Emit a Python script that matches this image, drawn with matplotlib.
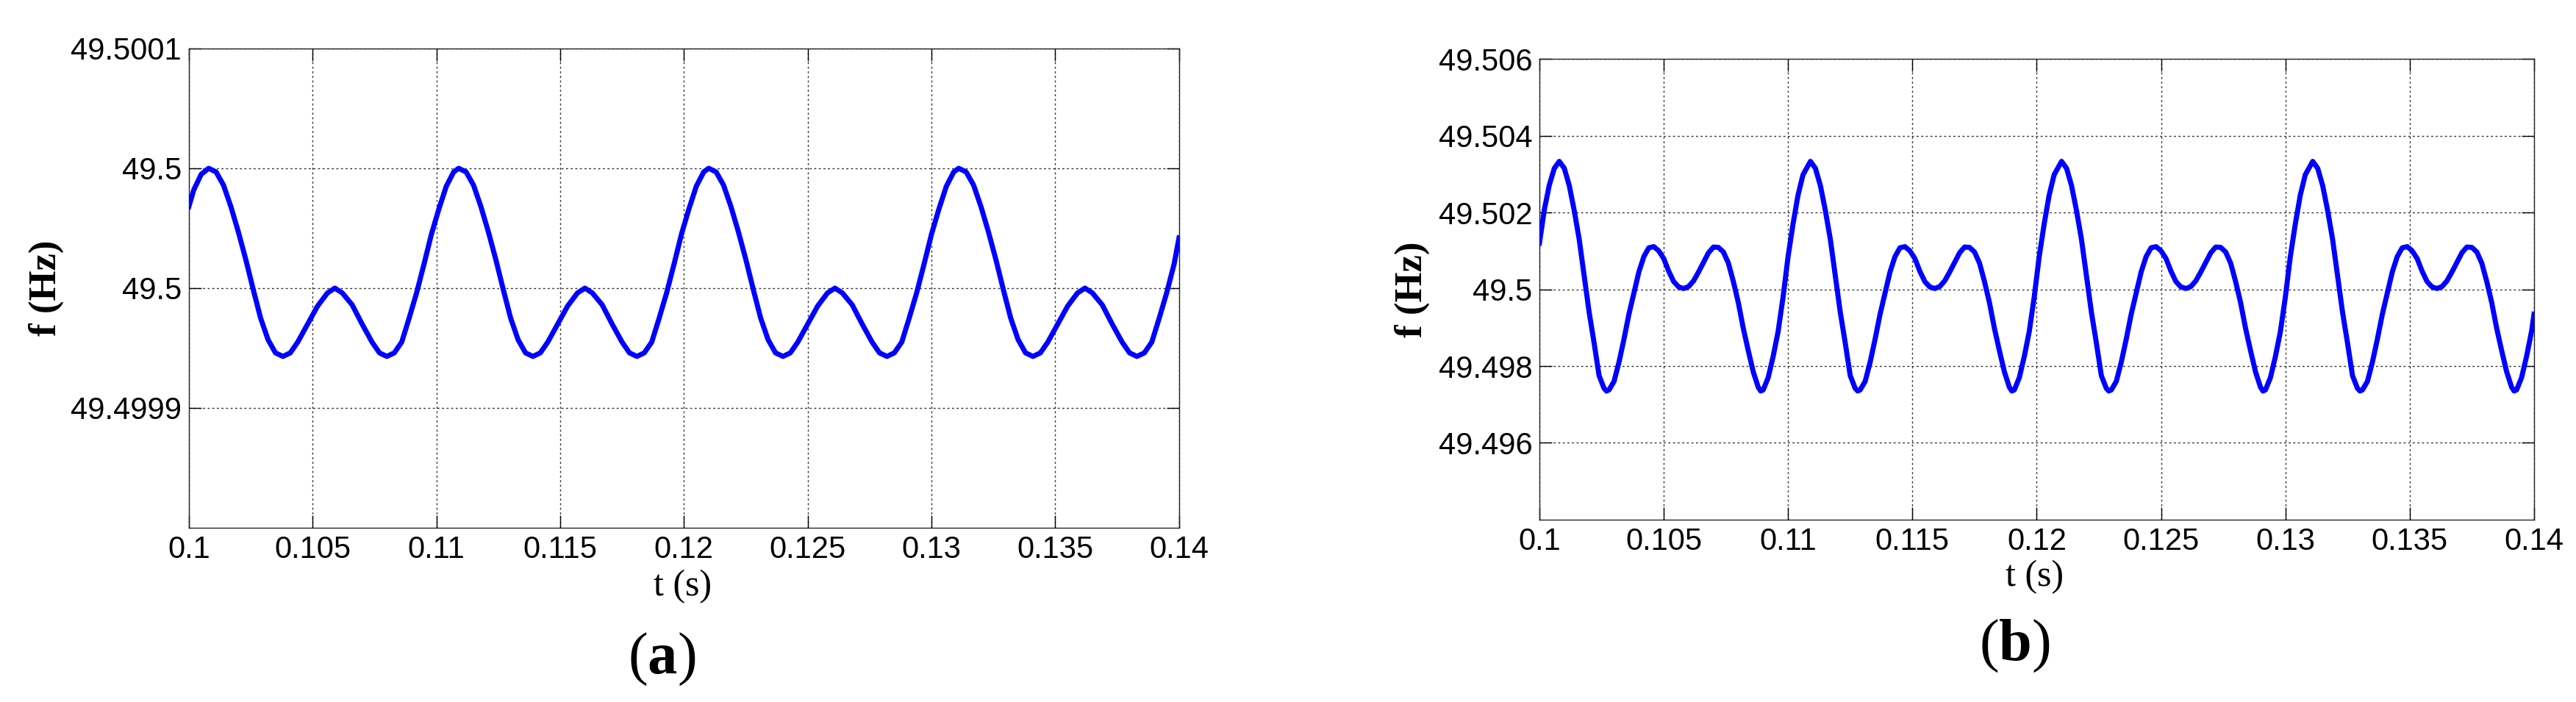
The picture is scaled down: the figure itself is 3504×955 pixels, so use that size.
import matplotlib
matplotlib.use("Agg")
import matplotlib.pyplot as plt
from matplotlib.ticker import FixedLocator, FixedFormatter

plt.rcParams["mathtext.fontset"] = "custom"
plt.rcParams["mathtext.rm"] = "Liberation Serif"
plt.rcParams["mathtext.bf"] = "Liberation Serif:bold"

# ---- data ----
# panel (a)
t_a = [
    0.1000, 0.1002, 0.1005,
    0.1008, 0.1011, 0.1014, 0.1017, 0.1020, 0.1023, 0.1026, 0.1029, 0.1032, 0.1035,
    0.1038, 0.1041, 0.1044, 0.1048, 0.1052, 0.1056, 0.1059, 0.1062, 0.1066, 0.1070,
    0.1074, 0.1077, 0.1080, 0.1083, 0.1086, 0.1089, 0.1092, 0.1095, 0.1098, 0.1101,
    0.1104, 0.1107,
    0.1109, 0.1112, 0.1115, 0.1118, 0.1121, 0.1124, 0.1127, 0.1130, 0.1133, 0.1136,
    0.1139, 0.1142, 0.1145, 0.1149, 0.1153, 0.1157, 0.1160, 0.1163, 0.1167, 0.1171,
    0.1175, 0.1178, 0.1181, 0.1184, 0.1187, 0.1190, 0.1193, 0.1196, 0.1199, 0.1202,
    0.1205, 0.1208,
    0.1210, 0.1213, 0.1216, 0.1219, 0.1222, 0.1225, 0.1228, 0.1231, 0.1234, 0.1237,
    0.1240, 0.1243, 0.1246, 0.1250, 0.1254, 0.1258, 0.1261, 0.1264, 0.1268, 0.1272,
    0.1276, 0.1279, 0.1282, 0.1285, 0.1288, 0.1291, 0.1294, 0.1297, 0.1300, 0.1303,
    0.1306, 0.1309,
    0.1311, 0.1314, 0.1317, 0.1320, 0.1323, 0.1326, 0.1329, 0.1332, 0.1335, 0.1338,
    0.1341, 0.1344, 0.1347, 0.1351, 0.1355, 0.1359, 0.1362, 0.1365, 0.1369, 0.1373,
    0.1377, 0.1380, 0.1383, 0.1386, 0.1389, 0.1392, 0.1395, 0.1398, 0.1400,
]
f_a = [
    49.5000340, 49.5000410, 49.5000475,
    49.5000500, 49.5000485, 49.5000430, 49.5000340, 49.5000235, 49.5000120, 49.4999995, 49.4999875, 49.4999785, 49.4999730,
    49.4999715, 49.4999730, 49.4999775, 49.4999850, 49.4999925, 49.4999980, 49.5000000, 49.4999980, 49.4999930, 49.4999850,
    49.4999775, 49.4999730, 49.4999715, 49.4999730, 49.4999775, 49.4999875, 49.4999980, 49.5000100, 49.5000225, 49.5000330,
    49.5000425, 49.5000485,
    49.5000500, 49.5000485, 49.5000430, 49.5000340, 49.5000235, 49.5000120, 49.4999995, 49.4999875, 49.4999785, 49.4999730,
    49.4999715, 49.4999730, 49.4999775, 49.4999850, 49.4999925, 49.4999980, 49.5000000, 49.4999980, 49.4999930, 49.4999850,
    49.4999775, 49.4999730, 49.4999715, 49.4999730, 49.4999775, 49.4999875, 49.4999980, 49.5000100, 49.5000225, 49.5000330,
    49.5000425, 49.5000485,
    49.5000500, 49.5000485, 49.5000430, 49.5000340, 49.5000235, 49.5000120, 49.4999995, 49.4999875, 49.4999785, 49.4999730,
    49.4999715, 49.4999730, 49.4999775, 49.4999850, 49.4999925, 49.4999980, 49.5000000, 49.4999980, 49.4999930, 49.4999850,
    49.4999775, 49.4999730, 49.4999715, 49.4999730, 49.4999775, 49.4999875, 49.4999980, 49.5000100, 49.5000225, 49.5000330,
    49.5000425, 49.5000485,
    49.5000500, 49.5000485, 49.5000430, 49.5000340, 49.5000235, 49.5000120, 49.4999995, 49.4999875, 49.4999785, 49.4999730,
    49.4999715, 49.4999730, 49.4999775, 49.4999850, 49.4999925, 49.4999980, 49.5000000, 49.4999980, 49.4999930, 49.4999850,
    49.4999775, 49.4999730, 49.4999715, 49.4999730, 49.4999775, 49.4999875, 49.4999980, 49.5000100, 49.5000210,
]

# panel (b)
t_b = [
    0.1000, 0.1002, 0.1004, 0.1006,
    0.1008, 0.1010, 0.1012, 0.1014, 0.1016, 0.1018, 0.1020, 0.1022, 0.1024, 0.1026,
    0.1027, 0.1028, 0.1030, 0.1032, 0.1034, 0.1036, 0.1038, 0.1040, 0.1042, 0.1044,
    0.1046, 0.1048, 0.1050, 0.1052, 0.1054, 0.1056, 0.1058, 0.1060, 0.1062, 0.1064,
    0.1066, 0.1068, 0.1070, 0.1072, 0.1074, 0.1076, 0.1078, 0.1080, 0.1082, 0.1084,
    0.1086, 0.1088, 0.1089, 0.1090, 0.1092, 0.1094, 0.1096, 0.1098, 0.1100, 0.1102,
    0.1104, 0.1106,
    0.1109, 0.1111, 0.1113, 0.1115, 0.1117, 0.1119, 0.1121, 0.1123, 0.1125, 0.1127,
    0.1128, 0.1129, 0.1131, 0.1133, 0.1135, 0.1137, 0.1139, 0.1141, 0.1143, 0.1145,
    0.1147, 0.1149, 0.1151, 0.1153, 0.1155, 0.1157, 0.1159, 0.1161, 0.1163, 0.1165,
    0.1167, 0.1169, 0.1171, 0.1173, 0.1175, 0.1177, 0.1179, 0.1181, 0.1183, 0.1185,
    0.1187, 0.1189, 0.1190, 0.1191, 0.1193, 0.1195, 0.1197, 0.1199, 0.1201, 0.1203,
    0.1205, 0.1207,
    0.1210, 0.1212, 0.1214, 0.1216, 0.1218, 0.1220, 0.1222, 0.1224, 0.1226, 0.1228,
    0.1229, 0.1230, 0.1232, 0.1234, 0.1236, 0.1238, 0.1240, 0.1242, 0.1244, 0.1246,
    0.1248, 0.1250, 0.1252, 0.1254, 0.1256, 0.1258, 0.1260, 0.1262, 0.1264, 0.1266,
    0.1268, 0.1270, 0.1272, 0.1274, 0.1276, 0.1278, 0.1280, 0.1282, 0.1284, 0.1286,
    0.1288, 0.1290, 0.1291, 0.1292, 0.1294, 0.1296, 0.1298, 0.1300, 0.1302, 0.1304,
    0.1306, 0.1308,
    0.1311, 0.1313, 0.1315, 0.1317, 0.1319, 0.1321, 0.1323, 0.1325, 0.1327, 0.1329,
    0.1330, 0.1331, 0.1333, 0.1335, 0.1337, 0.1339, 0.1341, 0.1343, 0.1345, 0.1347,
    0.1349, 0.1351, 0.1353, 0.1355, 0.1357, 0.1359, 0.1361, 0.1363, 0.1365, 0.1367,
    0.1369, 0.1371, 0.1373, 0.1375, 0.1377, 0.1379, 0.1381, 0.1383, 0.1385, 0.1387,
    0.1389, 0.1391, 0.1392, 0.1393, 0.1395, 0.1397, 0.1399, 0.1400,
]
f_b = [
    49.50120, 49.50208, 49.50272, 49.50315,
    49.50333, 49.50315, 49.50270, 49.50205, 49.50130, 49.50035, 49.49940, 49.49860, 49.49775, 49.49742,
    49.49735, 49.49738, 49.49760, 49.49810, 49.49870, 49.49935, 49.49990, 49.50045, 49.50085, 49.50108,
    49.50111, 49.50100, 49.50080, 49.50047, 49.50020, 49.50006, 49.50002, 49.50007, 49.50022, 49.50045,
    49.50070, 49.50095, 49.50110, 49.50109, 49.50097, 49.50068, 49.50020, 49.49965, 49.49898, 49.49840,
    49.49785, 49.49745, 49.49735, 49.49738, 49.49770, 49.49825, 49.49890, 49.49980, 49.50085, 49.50170,
    49.50245, 49.50298,
    49.50333, 49.50315, 49.50270, 49.50205, 49.50130, 49.50035, 49.49940, 49.49860, 49.49775, 49.49742,
    49.49735, 49.49738, 49.49760, 49.49810, 49.49870, 49.49935, 49.49990, 49.50045, 49.50085, 49.50108,
    49.50111, 49.50100, 49.50080, 49.50047, 49.50020, 49.50006, 49.50002, 49.50007, 49.50022, 49.50045,
    49.50070, 49.50095, 49.50110, 49.50109, 49.50097, 49.50068, 49.50020, 49.49965, 49.49898, 49.49840,
    49.49785, 49.49745, 49.49735, 49.49738, 49.49770, 49.49825, 49.49890, 49.49980, 49.50085, 49.50170,
    49.50245, 49.50298,
    49.50333, 49.50315, 49.50270, 49.50205, 49.50130, 49.50035, 49.49940, 49.49860, 49.49775, 49.49742,
    49.49735, 49.49738, 49.49760, 49.49810, 49.49870, 49.49935, 49.49990, 49.50045, 49.50085, 49.50108,
    49.50111, 49.50100, 49.50080, 49.50047, 49.50020, 49.50006, 49.50002, 49.50007, 49.50022, 49.50045,
    49.50070, 49.50095, 49.50110, 49.50109, 49.50097, 49.50068, 49.50020, 49.49965, 49.49898, 49.49840,
    49.49785, 49.49745, 49.49735, 49.49738, 49.49770, 49.49825, 49.49890, 49.49980, 49.50085, 49.50170,
    49.50245, 49.50298,
    49.50333, 49.50315, 49.50270, 49.50205, 49.50130, 49.50035, 49.49940, 49.49860, 49.49775, 49.49742,
    49.49735, 49.49738, 49.49760, 49.49810, 49.49870, 49.49935, 49.49990, 49.50045, 49.50085, 49.50108,
    49.50111, 49.50100, 49.50080, 49.50047, 49.50020, 49.50006, 49.50002, 49.50007, 49.50022, 49.50045,
    49.50070, 49.50095, 49.50110, 49.50109, 49.50097, 49.50068, 49.50020, 49.49965, 49.49898, 49.49840,
    49.49785, 49.49745, 49.49735, 49.49738, 49.49770, 49.49825, 49.49890, 49.49935,
]

# ---- ticks ----
x_ticks = [0.1, 0.105, 0.11, 0.115, 0.12, 0.125, 0.13, 0.135, 0.14]
x_labels = ["0.1", "0.105", "0.11", "0.115", "0.12", "0.125", "0.13", "0.135", "0.14"]

ylim_a = (49.4999, 49.5001)
y_ticks_a = [49.49995, 49.5, 49.50005, 49.5001]
y_labels_a = ["49.4999", "49.5", "49.5", "49.5001"]

ylim_b = (49.494, 49.506)
y_ticks_b = [49.496, 49.498, 49.5, 49.502, 49.504, 49.506]
y_labels_b = ["49.496", "49.498", "49.5", "49.502", "49.504", "49.506"]

fig = plt.figure(figsize=(35.04, 9.55), dpi=100)
ax_a = fig.add_axes([0.0733, 0.2482, 0.3844, 0.6827])
ax_b = fig.add_axes([0.5976, 0.2597, 0.3861, 0.6565])


def style_axes(ax, t, f, ylim, yticks, ylabels):
    ax.plot(t, f, color="#0000ff", lw=5, solid_joinstyle="round", zorder=3)
    ax.set_xlim(0.1, 0.14)
    ax.set_ylim(*ylim)
    ax.xaxis.set_major_locator(FixedLocator(x_ticks))
    ax.xaxis.set_major_formatter(FixedFormatter(x_labels))
    ax.yaxis.set_major_locator(FixedLocator(yticks))
    ax.yaxis.set_major_formatter(FixedFormatter(ylabels))
    ax.tick_params(direction="in", length=12, width=1, top=True, right=True,
                   labelsize=30, pad=7, colors="black")
    for lab in ax.get_xticklabels() + ax.get_yticklabels():
        lab.set_fontfamily("Liberation Sans")
    ax.grid(True, color="#333333", linestyle=(0, (2, 2.5)), linewidth=1)
    for sp in ax.spines.values():
        sp.set_linewidth(1)
        sp.set_color("#222222")


style_axes(ax_a, t_a, f_a, ylim_a, y_ticks_a, y_labels_a)
style_axes(ax_b, t_b, f_b, ylim_b, y_ticks_b, y_labels_b)

# axis labels and captions
serif = "Liberation Serif"
fig.text(0.0180, 0.5895, "f (Hz)", rotation=90, ha="center", va="center",
         fontsize=38, fontweight="bold", family=serif)
fig.text(0.2651, 0.1644, "t (s)", ha="center", va="center", fontsize=36, family=serif)
fig.text(0.2569, 0.0607, r"($\mathbf{a}$)", ha="center", va="center", fontsize=58, family=serif)

fig.text(0.5482, 0.5880, "f (Hz)", rotation=90, ha="center", va="center",
         fontsize=38, fontweight="bold", family=serif)
fig.text(0.7897, 0.1780, "t (s)", ha="center", va="center", fontsize=36, family=serif)
fig.text(0.7820, 0.0796, r"($\mathbf{b}$)", ha="center", va="center", fontsize=58, family=serif)

fig.savefig("out.png", dpi=100, facecolor="white")
